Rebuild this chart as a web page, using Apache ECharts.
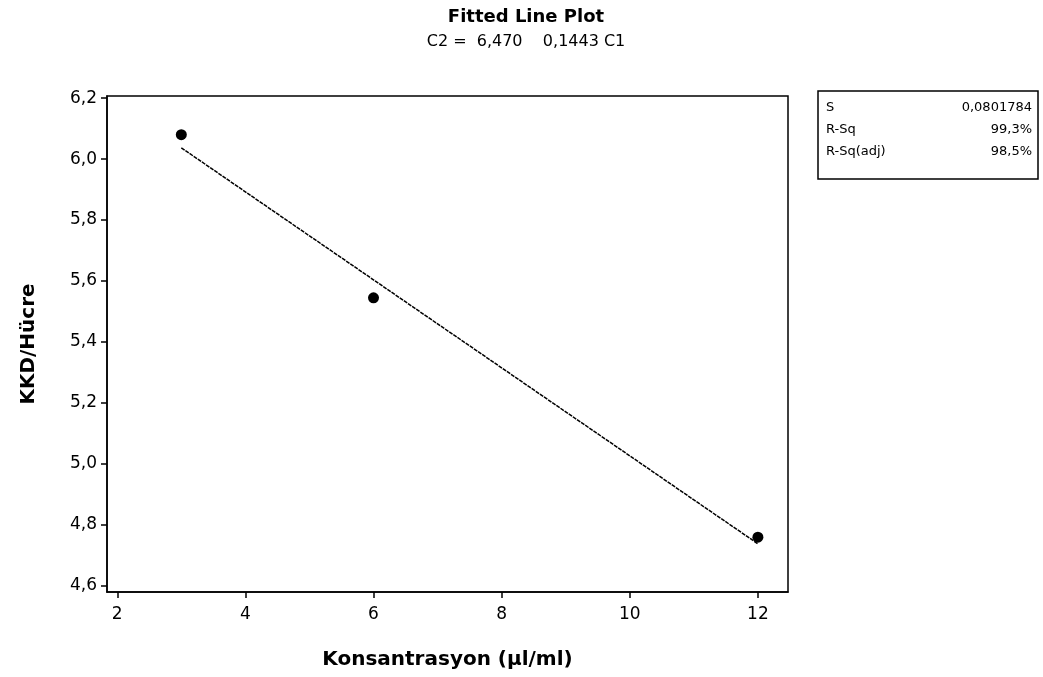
<!DOCTYPE html>
<html><head><meta charset="utf-8">
<script src="https://cdn.jsdelivr.net/npm/echarts@6/dist/echarts.min.js"></script>
<style>html,body{margin:0;padding:0;background:#fff}#c{width:1043px;height:677px}</style>
</head><body><div id="c"></div>
<script>
const xValues = [3, 6, 12];
const yValues = [6.08, 5.545, 4.76];
const fitX = [3, 12];
const fitY = [6.037, 4.738];
const xTicks = [2, 4, 6, 8, 10, 12];
const yTicks = [4.6, 4.8, 5.0, 5.2, 5.4, 5.6, 5.8, 6.0, 6.2];
const statLabels = ['S', 'R-Sq', 'R-Sq(adj)'];
const statValues = ['0,0801784', '99,3%', '98,5%'];

const font = 'DejaVu Sans';
const chart = echarts.init(document.getElementById('c'), null, {renderer: 'canvas'});
const comma = v => String(v).replace('.', ',');

const graphics = [
  {type: 'rect', shape: {x: 818, y: 91, width: 220, height: 88}, style: {fill: '#fff', stroke: '#000', lineWidth: 1.5}}
];
statLabels.forEach((s, i) => {
  graphics.push({type: 'text', left: 826, top: 101 + i * 22, style: {text: s, font: '13px ' + font, fill: '#000'}});
  graphics.push({type: 'text', right: 1043 - 1032, top: 101 + i * 22, style: {text: statValues[i], font: '13px ' + font, fill: '#000', align: 'right'}});
});

chart.setOption({
  animation: false,
  title: {
    text: 'Fitted Line Plot',
    subtext: 'C2 =  6,470    0,1443 C1',
    left: 521, textAlign: 'center', top: 3, itemGap: 8,
    textStyle: {fontFamily: font, fontWeight: 'bold', fontSize: 18, color: '#000'},
    subtextStyle: {fontFamily: font, fontSize: 16, color: '#000'}
  },
  grid: {left: 107, right: 255, top: 96, bottom: 85, show: true, borderColor: '#000', borderWidth: 1.5},
  xAxis: {
    type: 'value', min: 1.84, max: 12.47,
    name: 'Konsantrasyon (µl/ml)', nameLocation: 'middle', nameGap: 58,
    nameTextStyle: {fontFamily: font, fontWeight: 'bold', fontSize: 20, color: '#000'},
    axisLine: {show: true, lineStyle: {color: '#000', width: 1.5}},
    axisTick: {show: true, length: 6, customValues: xTicks, lineStyle: {color: '#000', width: 1.5}},
    axisLabel: {customValues: xTicks, fontFamily: font, fontSize: 17, color: '#000', margin: 14, formatter: v => comma(v)},
    splitLine: {show: false}
  },
  yAxis: {
    type: 'value', min: 4.58, max: 6.207,
    name: 'KKD/Hücre', nameLocation: 'middle', nameGap: 68,
    nameTextStyle: {fontFamily: font, fontWeight: 'bold', fontSize: 20, color: '#000'},
    axisLine: {show: true, lineStyle: {color: '#000', width: 1.5}},
    axisTick: {show: true, length: 6, customValues: yTicks, lineStyle: {color: '#000', width: 1.5}},
    axisLabel: {customValues: yTicks, fontFamily: font, fontSize: 17, color: '#000', margin: 10, formatter: v => comma(v.toFixed(1))},
    splitLine: {show: false}
  },
  graphic: graphics,
  series: [
    {type: 'line', data: fitX.map((x, i) => [x, fitY[i]]), symbol: 'none',
     lineStyle: {color: '#000', width: 1.5, type: [4, 1]}, z: 2},
    {type: 'scatter', data: xValues.map((x, i) => [x, yValues[i]]), symbol: 'circle', symbolSize: 11,
     itemStyle: {color: '#000', opacity: 1}, z: 3}
  ]
});
</script></body></html>
